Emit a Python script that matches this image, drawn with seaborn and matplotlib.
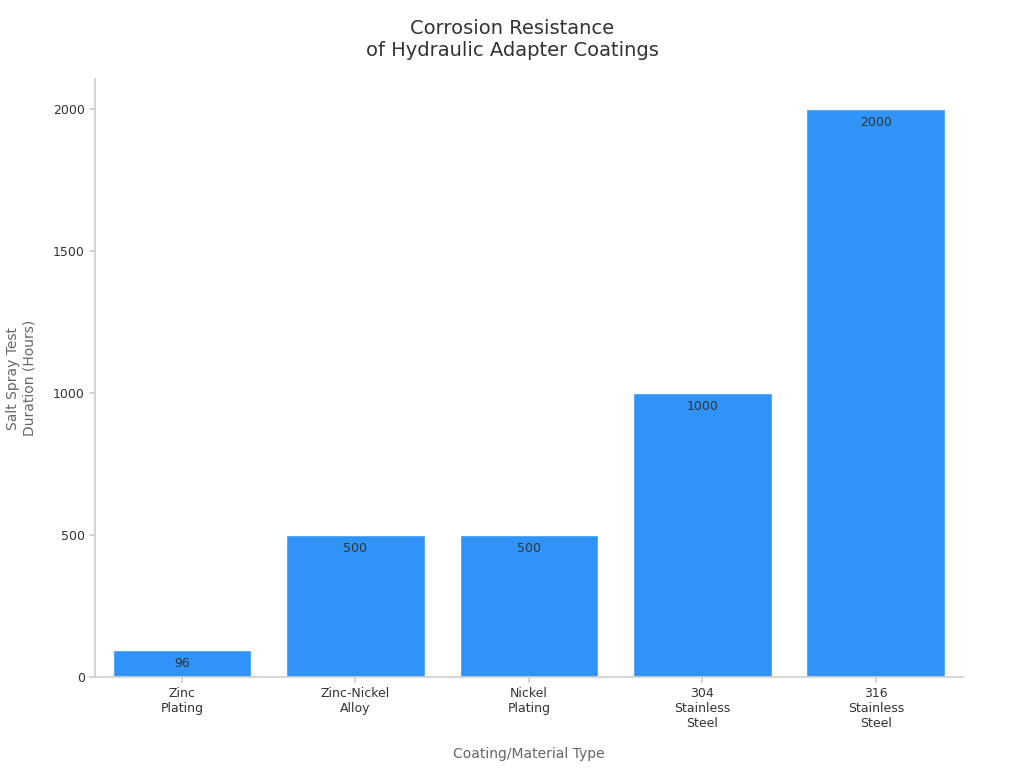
import matplotlib
matplotlib.use("Agg")
import matplotlib.pyplot as plt
import pandas as pd
import seaborn as sns

categories = ["Zinc\nPlating", "Zinc-Nickel\nAlloy", "Nickel\nPlating", "304\nStainless\nSteel", "316\nStainless\nSteel"]
hours = [96, 500, 500, 1000, 2000]

sns.set_theme(style="white")
plt.rcParams["font.family"] = ["DejaVu Sans"]

df = pd.DataFrame({"cat": categories, "hours": hours})

fig = plt.figure(figsize=(10.24, 7.68), dpi=100)
ax = fig.add_axes([0.093, 0.1185, 0.847, 0.778])
sns.barplot(data=df, x="cat", y="hours", color="#2f93f7", saturation=1,
            width=0.8, edgecolor="white", linewidth=1, ax=ax)

for i, v in enumerate(hours):
    ax.annotate(str(v), (i, v), xytext=(0, -5), textcoords="offset points",
                ha="center", va="top", fontsize=9, color="#333333")

ax.set_ylim(0, 2105)
ax.set_yticks([0, 500, 1000, 1500, 2000])
ax.set_xlim(-0.5, 4.5)
for s in ["top", "right"]:
    ax.spines[s].set_visible(False)
for s in ["left", "bottom"]:
    ax.spines[s].set_color("#d0d0d0")
ax.tick_params(axis="both", labelsize=9, colors="#333333", length=4, color="#d0d0d0")
ax.tick_params(axis="both", left=True, bottom=True)
ax.set_xlabel("Coating/Material Type", fontsize=10, color="#666666", labelpad=12)
ax.set_ylabel("Salt Spray Test\nDuration (Hours)", fontsize=10, color="#666666", labelpad=12)
fig.suptitle("Corrosion Resistance\nof Hydraulic Adapter Coatings", fontsize=14,
             color="#333333", y=0.975)

fig.savefig("out.png", dpi=100)
